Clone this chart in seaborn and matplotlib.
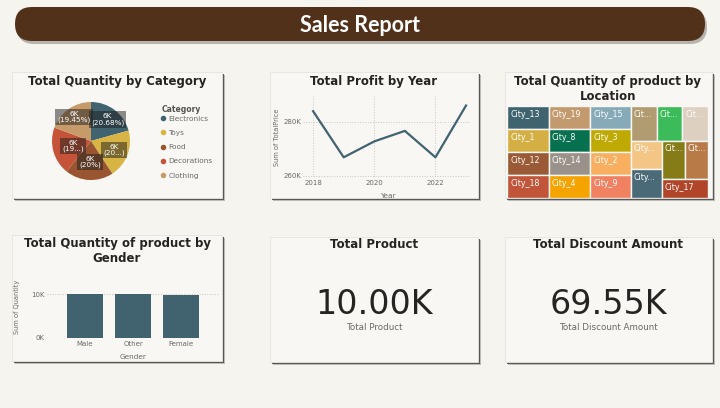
import numpy as np
import pandas as pd
import matplotlib
matplotlib.use("Agg")
import matplotlib.pyplot as plt
import seaborn as sns
from matplotlib.patches import FancyBboxPatch, Rectangle
from matplotlib.lines import Line2D
from matplotlib.ticker import FuncFormatter
from matplotlib.font_manager import FontProperties
from matplotlib.textpath import TextToPath

# ---------------- data ----------------
categories = ["Electronics", "Toys", "Food", "Decorations", "Clothing"]
category_share = [20.68, 20.10, 20.00, 19.77, 19.45]
category_labels = ["6K\n(20.68%)", "6K\n(20...)", "6K\n(20%)", "6K\n(19...)", "6K\n(19.45%)"]

years = [2018, 2019, 2020, 2021, 2022, 2023]
profit = [284000, 266900, 272800, 276700, 266900, 286100]

genders = ["Male", "Other", "Female"]
gender_qty = [10080, 10030, 9780]

cities = ["City_13", "City_1", "City_12", "City_18", "City_19", "City_8", "City_14", "City_4",
          "City_15", "City_3", "City_2", "City_9", "City_7", "City_5", "City_11", "City_16",
          "City_10", "City_6", "City_20", "City_17"]
city_qty = [1620, 1612, 1605, 1598, 1592, 1586, 1580, 1575, 1570, 1565, 1560, 1555,
            1500, 1496, 1492, 1488, 1484, 1478, 1470, 1462]

kpi_titles = ["Total Product", "Total Discount Amount"]
kpi_values = ["10.00K", "69.55K"]

# ---------------- styles ----------------
PAGE = "#F6F4EF"
CARD = "#F8F7F3"
HEADER = "#52311A"
TEAL = "#41636F"
TXT = "#252423"
GREY = "#6B6966"
pie_colors = ["#3F6470", "#D8B444", "#98552F", "#C4533A", "#C79A6A"]
city_colors = ["#3F6470", "#D4B044", "#9A5A35", "#C0553A", "#C39A6E", "#06704F", "#9A928A",
               "#F5A300", "#86AAB8", "#BFA905", "#F8B060", "#F08262", "#B09C70", "#3CBB5A",
               "#DDD0C0", "#F3C686", "#4A6A78", "#857C18", "#B87B48", "#B0452A"]
label_radius = [0.70, 0.64, 0.54, 0.48, 0.75]

# treemap nesting (h: split along x, v: split along y), leaves are city indices
tree = ("h", [("v", [0, 1, 2, 3]), ("v", [4, 5, 6, 7]), ("v", [8, 9, 10, 11]),
              ("v", [("h", [12, 13, 14]),
                     ("h", [("v", [15, 16]), ("v", [("h", [17, 18]), 19])])])])

W, H = 720, 408
fig = plt.figure(figsize=(7.2, 4.08), dpi=100)
fig.patch.set_facecolor(PAGE)
plt.rcParams["font.family"] = ["DejaVu Sans"]


def px_axes(x0, y0, x1, y1):
    ax = fig.add_axes([x0 / W, 1 - y1 / H, (x1 - x0) / W, (y1 - y0) / H])
    ax.set_facecolor("none")
    ax.set_zorder(2)
    return ax


# ---------------- background, header, cards ----------------
bg = fig.add_axes([0, 0, 1, 1])
bg.set_xlim(0, W)
bg.set_ylim(H, 0)
bg.axis("off")
bg.set_zorder(0)

bg.add_patch(FancyBboxPatch((17, 10), 690, 34, boxstyle="round,pad=0,rounding_size=17",
                            facecolor="#8E8A86", edgecolor="none", alpha=0.6))
bg.add_patch(FancyBboxPatch((15, 7), 690, 34, boxstyle="round,pad=0,rounding_size=17",
                            facecolor=HEADER, edgecolor="none"))
bg.text(360, 25, "Sales Report", color="white", fontsize=15.5, fontweight="bold",
        family=["Lato", "DejaVu Sans"], ha="center", va="center")

cards = [(12, 72, 222, 198), (270, 72, 478, 198), (505, 72, 712, 198),
         (12, 235, 222, 361), (270, 237, 478, 362), (505, 237, 712, 362)]
for (x0, y0, x1, y1) in cards:
    bg.add_patch(Rectangle((x0 + 3, y0 + 3), x1 - x0, y1 - y0, facecolor="#BDBBB8",
                           edgecolor="none"))
    bg.add_patch(Rectangle((x0 + 2, y0 + 2), x1 - x0, y1 - y0, facecolor="#5A5856",
                           edgecolor="none"))
    bg.add_patch(Rectangle((x0, y0), x1 - x0, y1 - y0, facecolor=CARD,
                           edgecolor="#E6E4DF", linewidth=0.6))

tkw = dict(fontsize=8.5, fontweight="bold", color=TXT, ha="center", va="center")
bg.text(117, 81, "Total Quantity by Category", **tkw)
bg.text(374, 81, "Total Profit by Year", **tkw)
bg.text(608, 89, "Total Quantity of product by\nLocation", linespacing=1.15, **tkw)
bg.text(117, 251, "Total Quantity of product by\nGender", linespacing=1.15, **tkw)
for cx, t, v in zip([374, 608], kpi_titles, kpi_values):
    bg.text(cx, 244, t, **tkw)
    bg.text(cx, 305, v, fontsize=24, color=TXT, ha="center", va="center")
    bg.text(cx, 327, t, fontsize=6.3, color=GREY, ha="center", va="center")

# ---------------- pie ----------------
axp = px_axes(52, 102, 130, 180)
wedges, _ = axp.pie(category_share, colors=pie_colors, startangle=90, counterclock=False,
                    radius=1, wedgeprops=dict(linewidth=0))
axp.set_xlim(-1.0, 1.0)
axp.set_ylim(-1.0, 1.0)
for wdg, lab, r in zip(wedges, category_labels, label_radius):
    ang = np.deg2rad((wdg.theta1 + wdg.theta2) / 2)
    axp.text(r * np.cos(ang), r * np.sin(ang), lab, ha="center", va="center", fontsize=5.2,
             color="white", linespacing=1.0,
             bbox=dict(boxstyle="square,pad=0.3", facecolor="#1E1E1E", alpha=0.5,
                       edgecolor="none"))
handles = [Line2D([], [], marker="o", linestyle="none", markersize=4, color=c,
                  markeredgewidth=0) for c in pie_colors]
bg.text(162, 109, "Category", fontsize=5.5, fontweight="bold", color="#555350",
        ha="left", va="center")
leg = axp.legend(handles, categories, loc="upper left",
                 bbox_to_anchor=(161 / W, 1 - 115.5 / H), bbox_transform=fig.transFigure,
                 frameon=False, fontsize=5.3, handlelength=0.6, handletextpad=0.4,
                 labelspacing=1.1, borderpad=0, borderaxespad=0, labelcolor=GREY)

# ---------------- line ----------------
axl = px_axes(303, 95, 470, 177)
sns.lineplot(x=years, y=profit, ax=axl, color=TEAL, linewidth=1.6)
axl.set_xlim(2017.67, 2023.13)
axl.set_ylim(259600, 290000)
axl.set_xticks([2018, 2020, 2022])
axl.set_yticks([260000, 280000])
axl.yaxis.set_major_formatter(FuncFormatter(lambda v, p: f"{v / 1000:.0f}K"))
axl.tick_params(length=0, labelsize=5, labelcolor=GREY, pad=2)
axl.tick_params(axis="y", pad=1)
axl.grid(True, linestyle=":", color="#C8C6C4", linewidth=0.7)
for s in axl.spines.values():
    s.set_visible(False)
axl.set_xlabel("Year", fontsize=5.3, color=GREY)
axl.set_ylabel("Sum of TotalPrice", fontsize=4.8, color=GREY)
axl.xaxis.set_label_coords(0.51, -0.19)
axl.yaxis.set_label_coords(-0.14, 0.49)

# ---------------- treemap ----------------
axt = px_axes(507, 106, 708, 198)
axt.set_xlim(0, 1)
axt.set_ylim(1, 0)
axt.axis("off")


def node_sum(n):
    if isinstance(n, int):
        return city_qty[n]
    return sum(node_sum(k) for k in n[1])


def layout(n, x, y, w, h, out):
    if isinstance(n, int):
        out[n] = (x, y, w, h)
        return
    orient, kids = n
    total = node_sum(n)
    pos = 0.0
    for k in kids:
        f = node_sum(k) / total
        if orient == "h":
            layout(k, x + pos * w, y, f * w, h, out)
        else:
            layout(k, x, y + pos * h, w, f * h, out)
        pos += f


rects = {}
layout(tree, 0, 0, 1, 1, rects)
t2p = TextToPath()
fp = FontProperties(family="DejaVu Sans", size=5.7)
tw_px, th_px = 201, 92


def text_px(s):
    w, _, _ = t2p.get_text_width_height_descent(s, fp, ismath=False)
    return w * 100 / 72


def fit(name, avail):
    if text_px(name) <= avail:
        return name
    for k in range(len(name) - 1, 0, -1):
        s = name[:k] + "..."
        if text_px(s) <= avail:
            return s
    return ""


for i, (x, y, w, h) in rects.items():
    axt.add_patch(Rectangle((x, y), w, h, facecolor=city_colors[i], edgecolor=CARD,
                            linewidth=1.0))
    lab = fit(cities[i], w * tw_px - 4.3)
    axt.text(x + 3 / tw_px, y + 8 / th_px, lab, fontproperties=fp, color="white",
             ha="left", va="center")

# ---------------- bar ----------------
axb = px_axes(47, 285, 220, 338)
sns.barplot(x=genders, y=gender_qty, ax=axb, color=TEAL, width=0.75, saturation=1)
axb.set_xlim(-0.79, 2.81)
axb.set_ylim(0, 12050)
axb.set_yticks([0, 10000])
axb.yaxis.set_major_formatter(FuncFormatter(lambda v, p: f"{v / 1000:.0f}K"))
axb.tick_params(length=0, labelsize=5, labelcolor=GREY, pad=2)
axb.grid(True, axis="y", linestyle=":", color="#C8C6C4", linewidth=0.7)
axb.set_axisbelow(True)
for s in axb.spines.values():
    s.set_visible(False)
axb.set_xlabel("Gender", fontsize=5.3, color=GREY)
axb.set_ylabel("Sum of Quantity", fontsize=4.8, color=GREY)
axb.xaxis.set_label_coords(0.497, -0.30)
axb.yaxis.set_label_coords(-0.156, 0.585)

fig.savefig("out.png", dpi=100, facecolor=PAGE)
